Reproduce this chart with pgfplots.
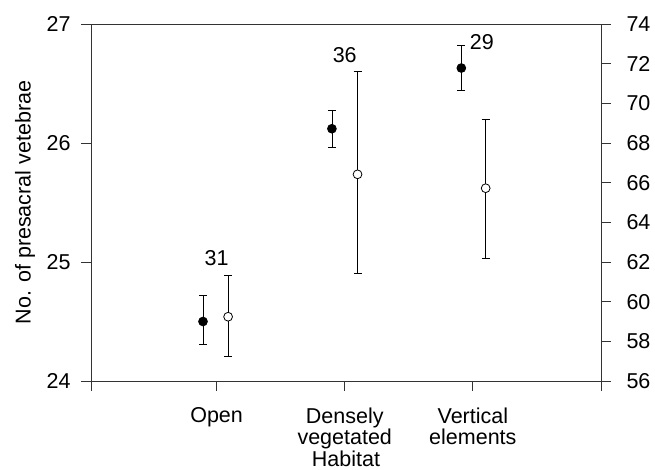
\documentclass[border=0pt]{standalone}
\usepackage{fontspec}
\setmainfont{Liberation Sans}
\usepackage{pgfplots}
\pgfplotsset{compat=1.18}

\begin{document}
\begin{tikzpicture}
\pgfplotsset{
  every axis/.append style={font=\fontsize{21.5}{21.7}\selectfont},
  /pgf/number format/assume math mode=true,
  common/.style={
    scale only axis, width=510pt, height=357pt,
    xmin=0.02, xmax=4,
    tick align=outside, major tick length=10pt,
    axis line style={black!80, line width=0.8pt},
    tick style={black!80, line width=0.8pt},
  },
  errs/.style={
    only marks, mark=*, mark size=4.4pt, black,
    mark options={line width=0.8pt, fill=#1},
    error bars/.cd, y dir=both, y explicit,
    error bar style={line width=0.8pt, black},
    error mark options={rotate=90, mark size=4pt, line width=0.8pt, black},
  },
}
\begin{axis}[
  common, name=ax,
  ymin=24, ymax=27, ytick={24,25,26,27},
  xtick={0.02,1,2,3,4},
  xticklabels={,Open,{Densely\\vegetated},{Vertical\\elements},},
  xticklabel style={align=center, yshift=-13pt},
  yticklabel style={xshift=-7pt},
  xtick pos=bottom, ytick pos=left,
  xlabel={Habitat}, ylabel={No. of presacral vetebrae},
  xlabel style={at={(axis description cs:0.5,0)}, anchor=center, yshift=-78pt},
  ylabel style={at={(axis description cs:0,0.5)}, anchor=center, yshift=66pt},
]
\addplot+[errs=black] coordinates {
  (0.894,24.50) += (0,0.22) -= (0,0.19)
  (1.9,26.12) += (0,0.15) -= (0,0.16)
  (2.91,26.63) += (0,0.19) -= (0,0.19)
};
\node at (axis cs:1,25.03) {31};
\node at (axis cs:2,26.74) {36};
\node at (axis cs:3.07,26.85) {29};
\end{axis}
\begin{axis}[
  common,
  ymin=56, ymax=74, ytick={56,58,...,74},
  yticklabel style={xshift=12pt},
  axis y line*=right, axis x line=none,
]
\addplot+[errs=white] coordinates {
  (1.09,59.24) += (0,2.10) -= (0,1.98)
  (2.1,66.42) += (0,5.21) -= (0,4.99)
  (3.1,65.72) += (0,3.48) -= (0,3.52)
};
\end{axis}
\pgfresetboundingbox
\path[use as bounding box] ([xshift=-91pt,yshift=-89pt]ax.south west)
  rectangle ([xshift=54pt,yshift=24pt]ax.north east);
\end{tikzpicture}
\end{document}
